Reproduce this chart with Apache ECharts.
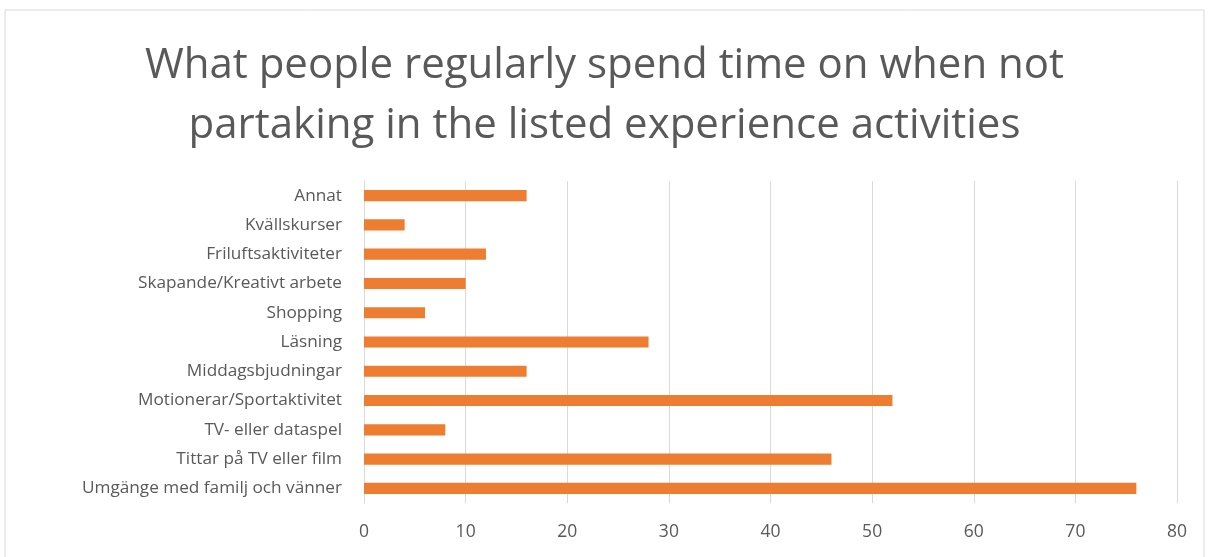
<!DOCTYPE html>
<html>
<head>
<meta charset="utf-8">
<script src="https://cdn.jsdelivr.net/npm/echarts@6/dist/echarts.min.js"></script>
<style>
  html, body { margin: 0; padding: 0; background: #fff; }
  #main { width: 1209px; height: 557px; }
</style>
</head>
<body>
<div id="main"></div>
<script>
// kategorier (nedifrån och upp, som i Excel)
var categories = [
  'Umgänge med familj och vänner',
  'Tittar på TV eller film',
  'TV- eller dataspel',
  'Motionerar/Sportaktivitet',
  'Middagsbjudningar',
  'Läsning',
  'Shopping',
  'Skapande/Kreativt arbete',
  'Friluftsaktiviteter',
  'Kvällskurser',
  'Annat'
];
var values = [76, 46, 8, 52, 16, 28, 6, 10, 12, 4, 16];
var titleText = 'What people regularly spend time on when not\npartaking in the listed experience activities';

var chart = echarts.init(document.getElementById('main'));
var font = '"Open Sans", "Noto Sans", sans-serif';

var option = {
  animation: false,
  backgroundColor: '#fff',
  graphic: [{
    type: 'rect',
    shape: { x: 5, y: 10, width: 1199, height: 560 },
    style: { fill: 'none', stroke: '#d9d9d9', lineWidth: 1 },
    silent: true
  }],
  title: {
    text: titleText,
    left: 'center',
    top: 31,
    textStyle: {
      fontFamily: font,
      fontSize: 42,
      fontWeight: 'normal',
      color: '#595959',
      lineHeight: 60
    }
  },
  grid: {
    left: 364,
    right: 32,
    top: 181,
    bottom: 54,
    containLabel: false
  },
  xAxis: {
    type: 'value',
    min: 0,
    max: 80,
    interval: 10,
    axisLine: { show: false },
    axisTick: { show: false },
    axisLabel: {
      fontFamily: font,
      fontSize: 17.5,
      color: '#595959',
      margin: 20
    },
    splitLine: { lineStyle: { color: '#d9d9d9', width: 1 } }
  },
  yAxis: {
    type: 'category',
    data: categories,
    axisLine: { show: true, lineStyle: { color: '#d9d9d9' } },
    axisTick: { show: false },
    axisLabel: {
      fontFamily: font,
      fontSize: 17.2,
      color: '#595959',
      margin: 22
    }
  },
  series: [{
    type: 'bar',
    data: values,
    barWidth: '38%',
    itemStyle: { color: '#ED7D31' }
  }]
};
chart.setOption(option);
</script>
</body>
</html>
